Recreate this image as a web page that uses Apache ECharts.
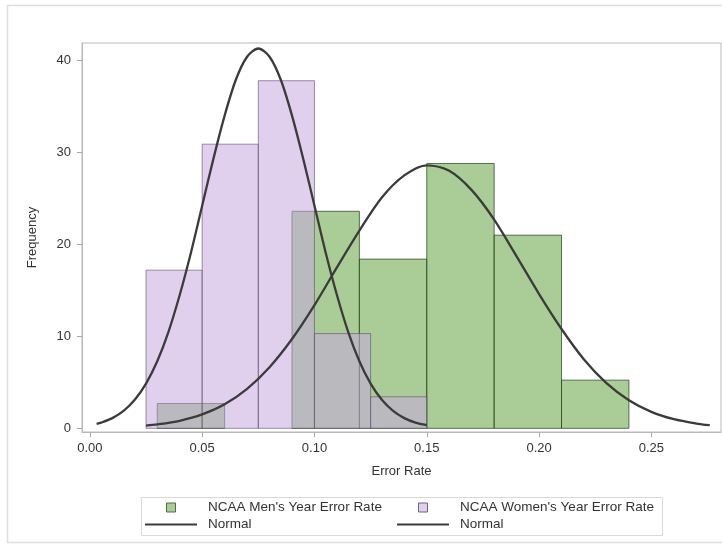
<!DOCTYPE html>
<html>
<head>
<meta charset="utf-8">
<script src="https://cdn.jsdelivr.net/npm/echarts@6/dist/echarts.min.js"></script>
<style>html,body{margin:0;padding:0;background:#fff}#c{width:722px;height:546px}</style>
</head>
<body>
<div id="c"></div>
<script>
// ---- data ----
const menBinStart = [0.03, 0.06, 0.09, 0.12, 0.15, 0.18, 0.21];
const menBinEnd   = [0.06, 0.09, 0.12, 0.15, 0.18, 0.21, 0.24];
const menPct      = [2.7, 0, 23.6, 18.4, 28.8, 21.0, 5.24];

const womenBinStart = [0.025, 0.05, 0.075, 0.10, 0.125];
const womenBinEnd   = [0.05, 0.075, 0.10, 0.125, 0.15];
const womenPct      = [17.2, 30.9, 37.8, 10.3, 3.43];

const womenCurveX = [0.003,0.005,0.01,0.015,0.02,0.025,0.03,0.035,0.04,0.045,0.05,0.055,0.06,0.065,0.07,0.075,0.08,0.085,0.09,0.095,0.10,0.105,0.11,0.115,0.12,0.125,0.13,0.135,0.14,0.145,0.15];
const womenCurveY = [0.49,0.62,1.11,1.89,3.10,4.86,7.29,10.5,14.5,19.1,24.2,29.3,34.0,37.9,40.4,41.3,40.4,37.9,34.0,29.3,24.2,19.1,14.5,10.5,7.29,4.86,3.10,1.89,1.11,0.62,0.34];

const menCurveX = [0.025,0.03,0.04,0.05,0.06,0.07,0.08,0.09,0.10,0.11,0.12,0.13,0.14,0.15,0.16,0.17,0.18,0.19,0.20,0.21,0.22,0.23,0.24,0.25,0.26,0.27,0.276];
const menCurveY = [0.30,0.42,0.82,1.51,2.62,4.30,6.65,9.71,13.4,17.5,21.5,25.1,27.5,28.6,28.0,25.9,22.7,18.7,14.6,10.8,7.49,4.92,3.06,1.79,0.99,0.52,0.34];

const xTicks = [0, 0.05, 0.10, 0.15, 0.20, 0.25];
const yTicks = [0, 10, 20, 30, 40];

const menName = "NCAA Men's Year Error Rate";
const womenName = "NCAA Women's Year Error Rate";

// ---- styles ----
const FONT = 'Liberation Sans, Arial, sans-serif';
const menFill = 'rgba(100,162,64,0.55)';
const menStroke = 'rgba(40,75,30,0.75)';
const womenFill = 'rgba(199,170,224,0.55)';
const womenStroke = 'rgba(90,75,105,0.6)';
const curveColor = '#3b3b3b';

function binData(s, e, v) {
  const out = [];
  for (let i = 0; i < s.length; i++) if (v[i] > 0) out.push([s[i], e[i], v[i]]);
  return out;
}
function zip(a, b) { return a.map((x, i) => [x, b[i]]); }

function histRender(fill, stroke) {
  return function (params, api) {
    const p0 = api.coord([api.value(0), api.value(2)]);
    const p1 = api.coord([api.value(1), 0]);
    return {
      type: 'rect',
      shape: { x: p0[0], y: p0[1], width: p1[0] - p0[0], height: p1[1] - p0[1] },
      style: { fill: fill, stroke: stroke, lineWidth: 1 }
    };
  };
}

const chart = echarts.init(document.getElementById('c'), null, { renderer: 'canvas' });
chart.setOption({
  animation: false,
  backgroundColor: '#fff',
  textStyle: { fontFamily: FONT },
  grid: {
    left: 82, right: 1, top: 43, bottom: 114,
    show: true, borderColor: '#b9b9b9', borderWidth: 1, containLabel: false
  },
  xAxis: {
    type: 'value', min: -0.0035, max: 0.281,
    name: 'Error Rate', nameLocation: 'middle', nameGap: 33,
    nameTextStyle: { color: '#333', fontSize: 13, fontFamily: FONT },
    axisLine: { show: true, onZero: false, lineStyle: { color: '#b9b9b9' } },
    axisTick: { show: true, length: 5, customValues: xTicks, lineStyle: { color: '#a8a8a8' } },
    axisLabel: { customValues: xTicks, margin: 10, color: '#333', fontSize: 13, fontFamily: FONT,
      formatter: v => v.toFixed(2) },
    splitLine: { show: false }
  },
  yAxis: {
    type: 'value', min: -0.4, max: 41.9,
    name: 'Frequency', nameLocation: 'middle', nameGap: 43,
    nameTextStyle: { color: '#333', fontSize: 13, fontFamily: FONT },
    axisLine: { show: true, onZero: false, lineStyle: { color: '#b9b9b9' } },
    axisTick: { show: true, length: 5, customValues: yTicks, lineStyle: { color: '#a8a8a8' } },
    axisLabel: { customValues: yTicks, margin: 11, color: '#333', fontSize: 13, fontFamily: FONT },
    splitLine: { show: false }
  },
  legend: [
    {
      left: 145, top: 499, orient: 'vertical', padding: 0, itemGap: 0,
      itemWidth: 52, itemHeight: 9, selectedMode: false,
      textStyle: { color: '#333', fontSize: 13.5, fontFamily: FONT, lineHeight: 17, padding: [0, 0, 0, 6] },
      data: [
        { name: menName, icon: 'path://M0,0h9v9h-9z', itemStyle: { color: 'rgb(170,204,150)', borderColor: '#4f6e44', borderWidth: 1 } },
        { name: 'Normal', icon: 'path://M0,0h52v2.2h-52z', itemStyle: { color: curveColor, borderWidth: 0 } }
      ]
    },
    {
      left: 397, top: 499, orient: 'vertical', padding: 0, itemGap: 0,
      itemWidth: 52, itemHeight: 9, selectedMode: false,
      textStyle: { color: '#333', fontSize: 13.5, fontFamily: FONT, lineHeight: 17, padding: [0, 0, 0, 6] },
      data: [
        { name: womenName, icon: 'path://M0,0h9v9h-9z', itemStyle: { color: 'rgb(224,208,238)', borderColor: '#6e6480', borderWidth: 1 } },
        { name: 'Normal', icon: 'path://M0,0h52v2.2h-52z', itemStyle: { color: curveColor, borderWidth: 0 } }
      ]
    }
  ],
  graphic: [
    { type: 'rect', silent: true, z: -10, shape: { x: 7.5, y: 5.5, width: 730, height: 537 },
      style: { fill: 'none', stroke: '#dedede', lineWidth: 1.5 } },
    { type: 'rect', silent: true, z: -5, shape: { x: 141.5, y: 497.5, width: 521, height: 38 },
      style: { fill: 'none', stroke: '#d9d9d9', lineWidth: 1 } }
  ],
  series: [
    {
      name: menName, type: 'custom', z: 2,
      renderItem: histRender(menFill, menStroke),
      itemStyle: { color: 'rgb(170,204,150)' },
      encode: { x: [0, 1], y: 2 },
      data: binData(menBinStart, menBinEnd, menPct)
    },
    {
      name: womenName, type: 'custom', z: 3,
      renderItem: histRender(womenFill, womenStroke),
      itemStyle: { color: 'rgb(224,208,238)' },
      encode: { x: [0, 1], y: 2 },
      data: binData(womenBinStart, womenBinEnd, womenPct)
    },
    {
      name: 'Normal', type: 'line', z: 5, symbol: 'none', smooth: 0.3,
      lineStyle: { color: curveColor, width: 2.3 }, itemStyle: { color: curveColor },
      data: zip(menCurveX, menCurveY)
    },
    {
      name: 'Normal', type: 'line', z: 5, symbol: 'none', smooth: 0.3,
      lineStyle: { color: curveColor, width: 2.3 }, itemStyle: { color: curveColor },
      data: zip(womenCurveX, womenCurveY)
    }
  ]
});
</script>
</body>
</html>
